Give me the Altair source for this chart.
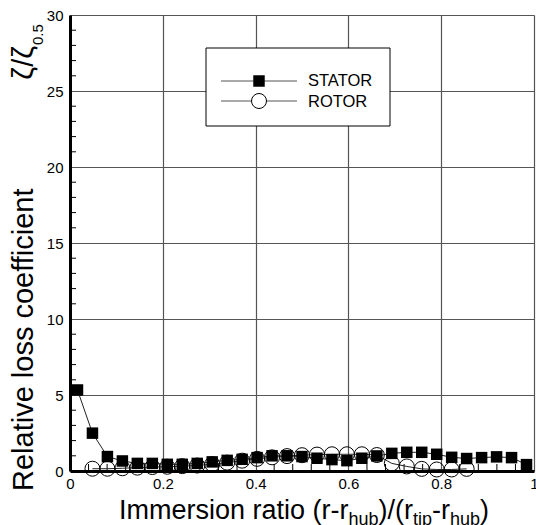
import altair as alt
import pandas as pd

# Immersion-ratio stations (cell centres of a 31-cell spanwise traverse)
n_cells = 31
stator_idx = list(range(0, 31))
rotor_idx = list(range(1, 27))

stator_loss = [5.33, 2.49, 0.95, 0.66, 0.50, 0.50, 0.44, 0.44, 0.50, 0.60,
               0.70, 0.77, 0.88, 1.00, 1.00, 0.95, 0.84, 0.75, 0.68, 0.84,
               0.99, 1.16, 1.23, 1.23, 1.10, 0.90, 0.82, 0.88, 0.93, 0.88,
               0.42]
rotor_loss = [0.15, 0.15, 0.18, 0.22, 0.26, 0.28, 0.32, 0.36, 0.45, 0.55,
              0.68, 0.80, 0.90, 0.98, 1.04, 1.08, 1.10, 1.10, 1.10, 1.05,
              0.50, 0.30, 0.14, 0.10, 0.10, 0.14]

x_ticks = [0, 0.2, 0.4, 0.6, 0.8, 1.0]
y_ticks = [0, 5, 10, 15, 20, 25, 30]
x_minor = [round(0.04 * k, 2) for k in range(1, 25) if k % 5]
y_minor = [k for k in range(1, 30) if k % 5]

W, H = 464, 456
PAD_L, PAD_T = 70, 15
FONT = "Liberation Sans"

stator = pd.DataFrame({"ratio": [(i + 0.5) / n_cells for i in stator_idx],
                       "loss": stator_loss})
rotor = pd.DataFrame({"ratio": [(i + 0.5) / n_cells for i in rotor_idx],
                      "loss": rotor_loss})

xs = alt.Scale(domain=[0, 1], nice=False, zero=False)
ys = alt.Scale(domain=[0, 30], nice=False, zero=False)

x_axis = alt.Axis(values=x_ticks, format="~g", title=None, grid=True, ticks=False,
                  labelFontSize=15, labelFont=FONT, labelColor="black",
                  labelPadding=5, domainColor="black", domainWidth=3,
                  gridColor="#555555", gridWidth=1.2, labelFlush=False)
y_axis = alt.Axis(values=y_ticks, title=None, grid=True, ticks=False,
                  labelFontSize=15, labelFont=FONT, labelColor="black",
                  labelPadding=7, domainColor="black", domainWidth=3,
                  gridColor="#555555", gridWidth=1.2, labelFlush=False)

frame = alt.Chart(pd.DataFrame({"ratio": [0, 1], "loss": [0, 30]})).mark_point(opacity=0).encode(
    x=alt.X("ratio:Q", scale=xs, axis=x_axis),
    y=alt.Y("loss:Q", scale=ys, axis=y_axis),
)

# inward minor ticks on the bottom and left axes
xtick_layer = alt.Chart(pd.DataFrame({"v": x_minor})).mark_rule(color="black", strokeWidth=1).encode(
    x=alt.X("v:Q", scale=xs), y=alt.value(H), y2=alt.value(H - 7))
ytick_layer = alt.Chart(pd.DataFrame({"v": y_minor})).mark_rule(color="black", strokeWidth=1).encode(
    y=alt.Y("v:Q", scale=ys), x=alt.value(0), x2=alt.value(6))

rotor_line = alt.Chart(rotor).mark_line(color="#222222", strokeWidth=1).encode(
    x=alt.X("ratio:Q", scale=xs), y=alt.Y("loss:Q", scale=ys))
rotor_pts = alt.Chart(rotor).mark_point(shape="circle", filled=False, color="black",
                                        size=225, strokeWidth=1, opacity=1).encode(
    x=alt.X("ratio:Q", scale=xs), y=alt.Y("loss:Q", scale=ys))
stator_line = alt.Chart(stator).mark_line(color="#222222", strokeWidth=1).encode(
    x=alt.X("ratio:Q", scale=xs), y=alt.Y("loss:Q", scale=ys))
stator_pts = alt.Chart(stator).mark_point(shape="square", filled=True, color="black",
                                          size=132, opacity=1).encode(
    x=alt.X("ratio:Q", scale=xs), y=alt.Y("loss:Q", scale=ys))

one = pd.DataFrame({"k": [0]})

# legend box
lx0, lx1, ly0, ly1 = 206 - PAD_L, 390 - PAD_L, 48 - PAD_T, 126 - PAD_T
legend_box = alt.Chart(one).mark_rect(fill="white", stroke="black", strokeWidth=1).encode(
    x=alt.value(lx0), x2=alt.value(lx1), y=alt.value(ly0), y2=alt.value(ly1))
legend_layers = [legend_box]
for row_y, shape, filled, size, label, base in [
        (81 - PAD_T, "square", True, 132, "STATOR", 86 - PAD_T),
        (101 - PAD_T, "circle", False, 225, "ROTOR", 106.5 - PAD_T)]:
    legend_layers.append(alt.Chart(one).mark_rule(color="#555555", strokeWidth=1).encode(
        x=alt.value(221 - PAD_L), x2=alt.value(297 - PAD_L), y=alt.value(row_y)))
    legend_layers.append(alt.Chart(one).mark_point(shape=shape, filled=filled, color="black",
                                                   size=size, opacity=1, strokeWidth=1,
                                                   fill="black" if filled else "white").encode(
        x=alt.value(259 - PAD_L), y=alt.value(row_y)))
    legend_layers.append(alt.Chart(one).mark_text(text=label, font=FONT, fontSize=16.5,
                                                  align="left", baseline="alphabetic",
                                                  color="black").encode(
        x=alt.value(308 - PAD_L), y=alt.value(base)))

# Arial/Liberation Sans advance widths (em) for laying out the sub-scripted x title
ADV = {" ": .278, "(": .333, ")": .333, "/": .278, "-": .333, "I": .278, "m": .833,
       "e": .556, "r": .333, "s": .5, "i": .222, "o": .556, "n": .556, "a": .556,
       "t": .278, "h": .556, "u": .556, "b": .556, "p": .556}
MAIN, SUB = 27, 18
pieces = [("Immersion ratio (r-r", False), ("hub", True), (")/(r", False),
          ("tip", True), ("-r", False), ("hub", True), (")", False)]
title_layers = []
cx = 119 - PAD_L
for txt, sub in pieces:
    fs = SUB if sub else MAIN
    base = (525 if sub else 519) - PAD_T
    title_layers.append(alt.Chart(one).mark_text(text=txt, font=FONT, fontSize=fs,
                                                 align="left", baseline="alphabetic",
                                                 color="black").encode(
        x=alt.value(cx), y=alt.value(base)))
    cx += sum(ADV[c] for c in txt) * fs

# rotated y title, running upward from the bottom
title_layers.append(alt.Chart(one).mark_text(text="Relative loss coefficient", font=FONT,
                                             fontSize=29, angle=270, align="left",
                                             baseline="alphabetic", color="black").encode(
    x=alt.value(33 - PAD_L), y=alt.value(491 - PAD_T)))
title_layers.append(alt.Chart(one).mark_text(text="ζ/ζ", font=FONT, fontSize=29, angle=270,
                                             align="right", baseline="alphabetic",
                                             color="black").encode(
    x=alt.value(33 - PAD_L), y=alt.value(46 - PAD_T)))
title_layers.append(alt.Chart(one).mark_text(text="0.5", font=FONT, fontSize=15, angle=270,
                                             align="left", baseline="alphabetic",
                                             color="black").encode(
    x=alt.value(43 - PAD_L), y=alt.value(45 - PAD_T)))

chart = alt.layer(
    frame, xtick_layer, ytick_layer, rotor_line, rotor_pts, stator_line, stator_pts,
    *legend_layers, *title_layers
).properties(
    width=W, height=H,
    autosize=alt.AutoSizeParams(type="none"),
    padding={"left": PAD_L, "top": PAD_T, "right": 2, "bottom": 525 - PAD_T - H},
).configure_view(
    stroke="black", strokeWidth=2.5
).configure(background="white")

chart.save("out.html", embed_options={"renderer": "svg", "actions": False})
